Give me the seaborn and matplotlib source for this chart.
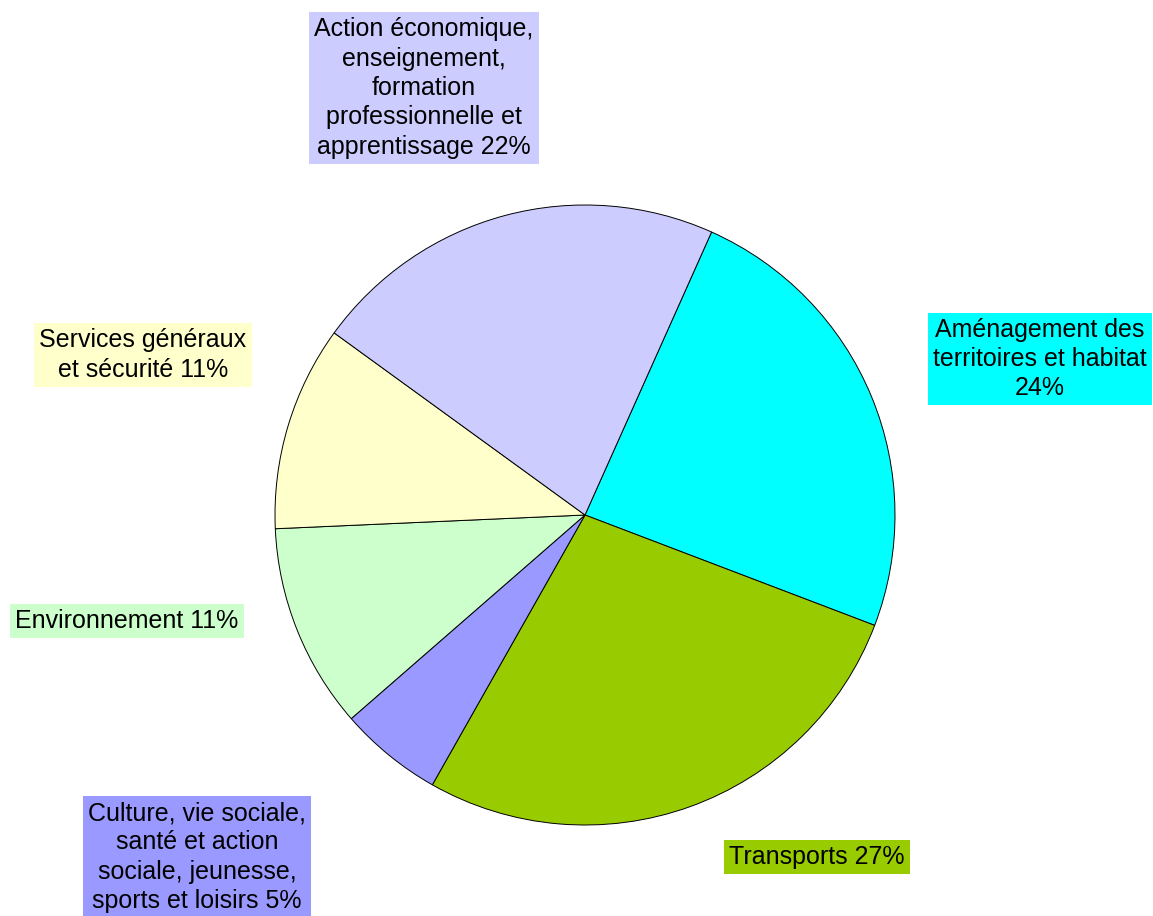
import matplotlib
matplotlib.use("Agg")
import matplotlib.pyplot as plt
import seaborn as sns

categories = [
    "Aménagement des\nterritoires et habitat\n24%",
    "Transports 27%",
    "Culture, vie sociale,\nsanté et action\nsociale, jeunesse,\nsports et loisirs 5%",
    "Environnement 11%",
    "Services généraux\net sécurité 11%",
    "Action économique,\nenseignement,\nformation\nprofessionnelle et\napprentissage 22%",
]
values = [24.1, 27.4, 5.4, 10.7, 10.7, 21.7]
colors = ["#00FFFF", "#99CC00", "#9999FF", "#CCFFCC", "#FFFFCC", "#CCCCFF"]

sns.set_theme(style="white")
plt.rcParams["font.family"] = ["Liberation Sans", "DejaVu Sans"]

W, H = 1153, 916
fig = plt.figure(figsize=(W / 100, H / 100), dpi=100)
ax = fig.add_axes([0, 0, 1, 1])

ax.pie(values, colors=colors, startangle=65.9, counterclock=False,
       center=(585, H - 515), radius=310, frame=True,
       wedgeprops=dict(edgecolor="black", linewidth=0.7))
ax.set_xlim(0, W)
ax.set_ylim(0, H)
ax.set_aspect("equal")
ax.axis("off")

# label positions (pixel, top-origin)
label_pos = [(1040, 359), (817, 857), (197, 857), (127, 621), (143, 355), (424, 88)]
for txt, col, (x, y) in zip(categories, colors, label_pos):
    ax.text(x, H - y, txt, ha="center", va="center", multialignment="center",
            fontsize=18, linespacing=1.28, color="black",
            bbox=dict(boxstyle="square,pad=0.2", facecolor=col, edgecolor="none"))

fig.savefig("out.png", dpi=100)
